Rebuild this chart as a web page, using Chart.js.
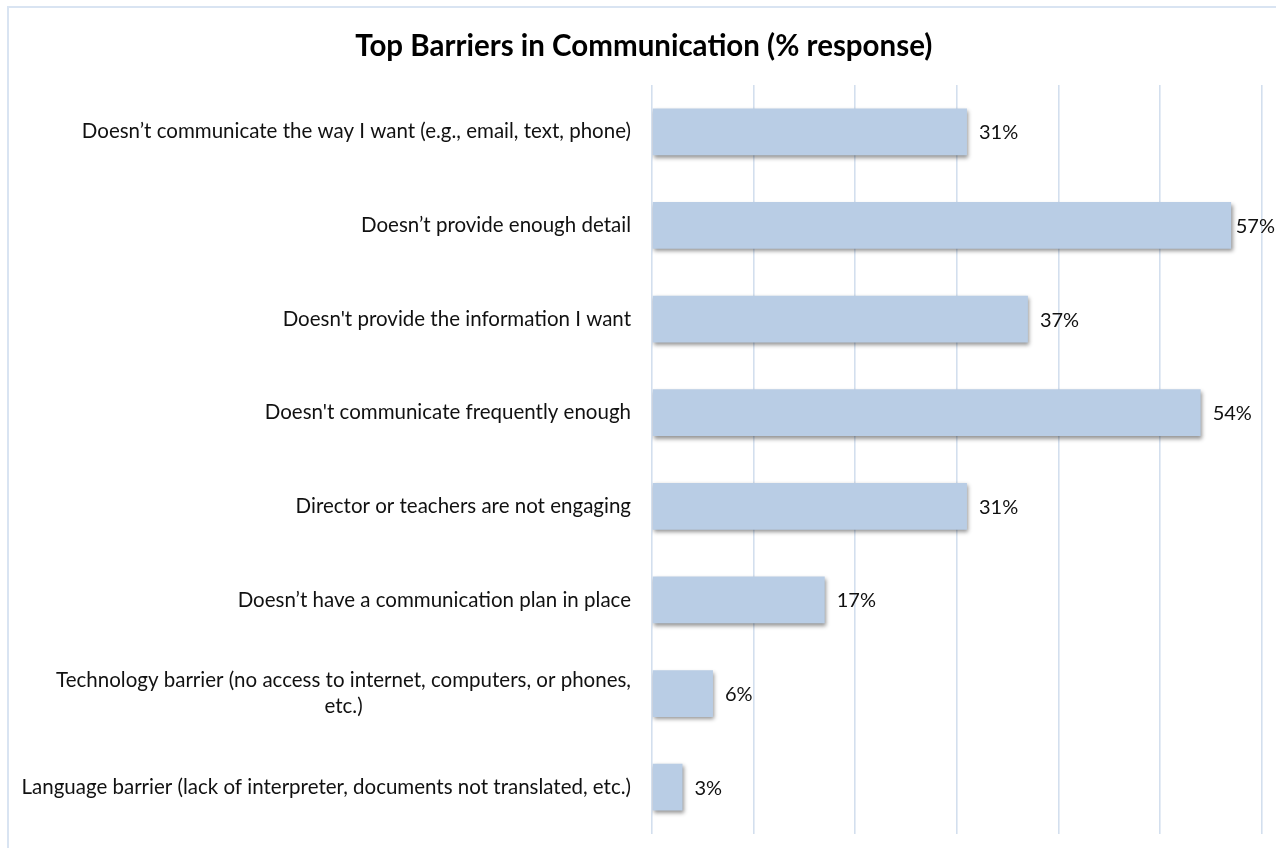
<!DOCTYPE html>
<html>
<head>
<meta charset="utf-8">
<script src="https://cdn.jsdelivr.net/npm/chart.js@4"></script>
<style>
  html, body { margin: 0; padding: 0; background: #ffffff; }
  #wrap { position: relative; width: 1276px; height: 848px; }
</style>
</head>
<body>
<div id="wrap"><canvas id="chart" width="1276" height="848"></canvas></div>
<script>
// Survey answers, top to bottom; a nested array is a label wrapped onto two lines
const categories = [
  "Doesn’t communicate the way I want (e.g., email, text, phone)",
  "Doesn’t provide enough detail",
  "Doesn't provide the information I want",
  "Doesn't communicate frequently enough",
  "Director or teachers are not engaging",
  "Doesn’t have a communication plan in place",
  ["Technology barrier (no access to internet, computers, or phones,", "etc.)"],
  "Language barrier (lack of interpreter, documents not translated, etc.)"
];

// Share of respondents naming each barrier (%)
const responses = [31, 57, 37, 54, 31, 17, 6, 3];

// Value axis range and gridline step (%)
const axisMin = 0;
const axisMax = 60;
const axisStep = 10;

const chartTitle = "Top Barriers in Communication (% response)";

const FONT = "Lato, 'Open Sans', sans-serif";
const TEXT_COLOR = "#111111";
const LABEL_SIZE = 20.5;
const VALUE_SIZE = 20;
const LINE_GAP = 26;

// White page with a thin frame on the top and left edges
const framePlugin = {
  id: "frame",
  beforeDraw(chart) {
    const ctx = chart.ctx;
    ctx.save();
    ctx.fillStyle = "#ffffff";
    ctx.fillRect(0, 0, chart.width, chart.height);
    ctx.strokeStyle = "#d9e4f2";
    ctx.lineWidth = 2;
    ctx.beginPath();
    ctx.moveTo(8, chart.height);
    ctx.lineTo(8, 7);
    ctx.lineTo(chart.width, 7);
    ctx.stroke();
    ctx.restore();
  }
};

// Soft drop shadow under the bars, then the value labels at the bar ends
const barDecorPlugin = {
  id: "barDecor",
  beforeDatasetsDraw(chart) {
    const ctx = chart.ctx;
    ctx.save();
    ctx.shadowColor = "rgba(0,0,0,0.42)";
    ctx.shadowBlur = 4;
    ctx.shadowOffsetX = 1.5;
    ctx.shadowOffsetY = 2.5;
  },
  afterDatasetsDraw(chart) {
    const ctx = chart.ctx;
    ctx.restore();
    const meta = chart.getDatasetMeta(0);
    const data = chart.data.datasets[0].data;
    ctx.save();
    ctx.font = `${VALUE_SIZE}px ${FONT}`;
    ctx.fillStyle = TEXT_COLOR;
    ctx.textAlign = "left";
    ctx.textBaseline = "middle";
    meta.data.forEach((bar, i) => {
      const text = data[i] + "%";
      const w = ctx.measureText(text).width;
      // keep the label inside the canvas when the bar runs close to the edge
      const x = Math.min(bar.x + 12, chart.width - w - 1);
      ctx.fillText(text, x, bar.y + 1);
    });
    ctx.restore();
  }
};

// Category labels: block right-aligned to the axis, wrapped lines centred within it
const categoryLabelPlugin = {
  id: "categoryLabels",
  afterDraw(chart) {
    const ctx = chart.ctx;
    const yScale = chart.scales.y;
    const right = chart.chartArea.left - 21;
    ctx.save();
    ctx.font = `${LABEL_SIZE}px ${FONT}`;
    ctx.fillStyle = TEXT_COLOR;
    ctx.textAlign = "center";
    ctx.textBaseline = "middle";
    chart.data.labels.forEach((label, i) => {
      const lines = Array.isArray(label) ? label : [label];
      const widest = Math.max(...lines.map(l => ctx.measureText(l).width));
      const cx = right - widest / 2;
      const cy = yScale.getPixelForTick(i);
      const startY = cy - (lines.length - 1) * LINE_GAP / 2;
      lines.forEach((line, k) => ctx.fillText(line, cx, startY + k * LINE_GAP));
    });
    ctx.restore();
  }
};

new Chart(document.getElementById("chart"), {
  type: "bar",
  data: {
    labels: categories,
    datasets: [{
      data: responses,
      backgroundColor: "#b9cde5",
      borderWidth: 0,
      barPercentage: 0.5,
      categoryPercentage: 1.0
    }]
  },
  options: {
    indexAxis: "y",
    responsive: false,
    animation: false,
    devicePixelRatio: 1,
    layout: { padding: { left: 26, right: 14.4, top: 0, bottom: 14 } },
    plugins: {
      legend: { display: false },
      tooltip: { enabled: false },
      title: {
        display: true,
        text: chartTitle,
        color: "#000000",
        font: { family: FONT, size: 29.5, weight: "bold", lineHeight: 1.2 },
        padding: { top: 29, bottom: 20.6 }
      }
    },
    scales: {
      x: {
        type: "linear",
        position: "bottom",
        min: axisMin,
        max: axisMax,
        ticks: { display: false, stepSize: axisStep },
        grid: { color: "#d3dfee", lineWidth: 1.6, drawTicks: false },
        border: { display: false },
        afterFit(scale) { scale.height = 0; }
      },
      y: {
        ticks: { display: false },
        grid: { display: false },
        border: { display: false },
        afterFit(scale) { scale.width = 652 - 26; }
      }
    }
  },
  plugins: [framePlugin, barDecorPlugin, categoryLabelPlugin]
});
</script>
</body>
</html>
